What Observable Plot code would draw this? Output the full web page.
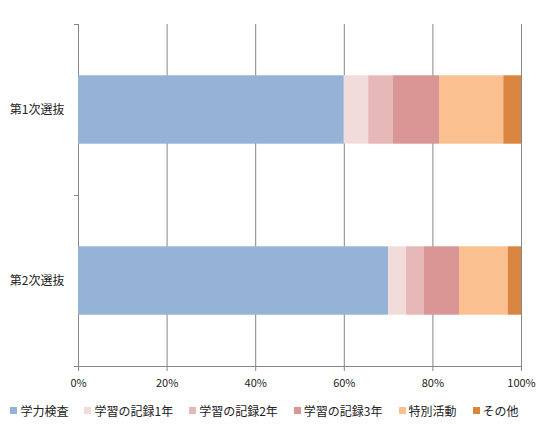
<!DOCTYPE html>
<html>
<head>
<meta charset="utf-8">
<script src="https://cdn.jsdelivr.net/npm/d3@7"></script>
<script src="https://cdn.jsdelivr.net/npm/@observablehq/plot@0.6"></script>
<style>
  body { margin: 0; background: #fff; font-family: "Noto Sans CJK JP", "Noto Sans", sans-serif; }
  #chart svg { display: block; }
  .legend { display: flex; justify-content: center; align-items: center; gap: 16px; font-size: 12px; color: #222; height: 28px; padding-right: 12px; }
  .legend .item { display: flex; align-items: center; white-space: nowrap; }
  .legend .sw { width: 7px; height: 7px; margin-right: 3px; display: inline-block; }
</style>
</head>
<body>
<div id="chart"></div>
<script>
const categories = ["第1次選抜", "第2次選抜"];
const seriesNames = ["学力検査", "学習の記録1年", "学習の記録2年", "学習の記録3年", "特別活動", "その他"];
const colors = ["#95B3D7", "#F2DCDB", "#E6B9B8", "#D99694", "#FAC090", "#DB8640"];
const values1 = [60, 5.5, 5.5, 10.5, 14.5, 4];
const values2 = [70, 4, 4, 8, 11, 3];
const xTicks = [0, 20, 40, 60, 80, 100];

const seriesValues = [values1, values2];
const rows = [];
categories.forEach((c, i) => {
  let acc = 0;
  seriesValues[i].forEach((v, j) => {
    rows.push({cat: c, idx: i, series: seriesNames[j], x1: acc, x2: acc + v});
    acc += v;
  });
});

const gridColor = "#868686";
const plot = Plot.plot({
  width: 541,
  height: 396,
  marginTop: 24,
  marginBottom: 30,
  marginLeft: 78,
  marginRight: 20,
  style: {fontFamily: '"Noto Sans CJK JP", "Noto Sans", sans-serif', color: "#222", background: "#fff"},
  x: {domain: [0, 100], axis: null},
  y: {domain: [0, categories.length], reverse: true, axis: null},
  color: {domain: seriesNames, range: colors},
  marks: [
    Plot.ruleX(xTicks, {stroke: gridColor, strokeWidth: 1}),
    Plot.rectX(rows, {x1: "x1", x2: "x2", y1: d => d.idx + 0.3, y2: d => d.idx + 0.7, fill: "series"}),
    Plot.ruleY([categories.length], {stroke: gridColor}),
    Plot.axisX({ticks: xTicks, tickFormat: d => d + "%", tickSize: 5, tickPadding: 8, stroke: gridColor, fontSize: 11, color: "#222", anchor: "bottom"}),
    Plot.axisY({ticks: d3.range(categories.length + 1), tickFormat: () => "", tickSize: 4, stroke: gridColor, anchor: "left"}),
    Plot.axisY({ticks: categories.map((c, i) => i + 0.5), tickFormat: v => categories[Math.floor(v)], tickSize: 0, tickPadding: 14, fontSize: 12, anchor: "left"})
  ]
});
document.getElementById("chart").appendChild(plot);

const legend = document.createElement("div");
legend.className = "legend";
seriesNames.forEach((s, j) => {
  const it = document.createElement("div");
  it.className = "item";
  const sw = document.createElement("span");
  sw.className = "sw";
  sw.style.background = colors[j];
  it.appendChild(sw);
  it.appendChild(document.createTextNode(s));
  legend.appendChild(it);
});
document.getElementById("chart").appendChild(legend);
</script>
</body>
</html>
